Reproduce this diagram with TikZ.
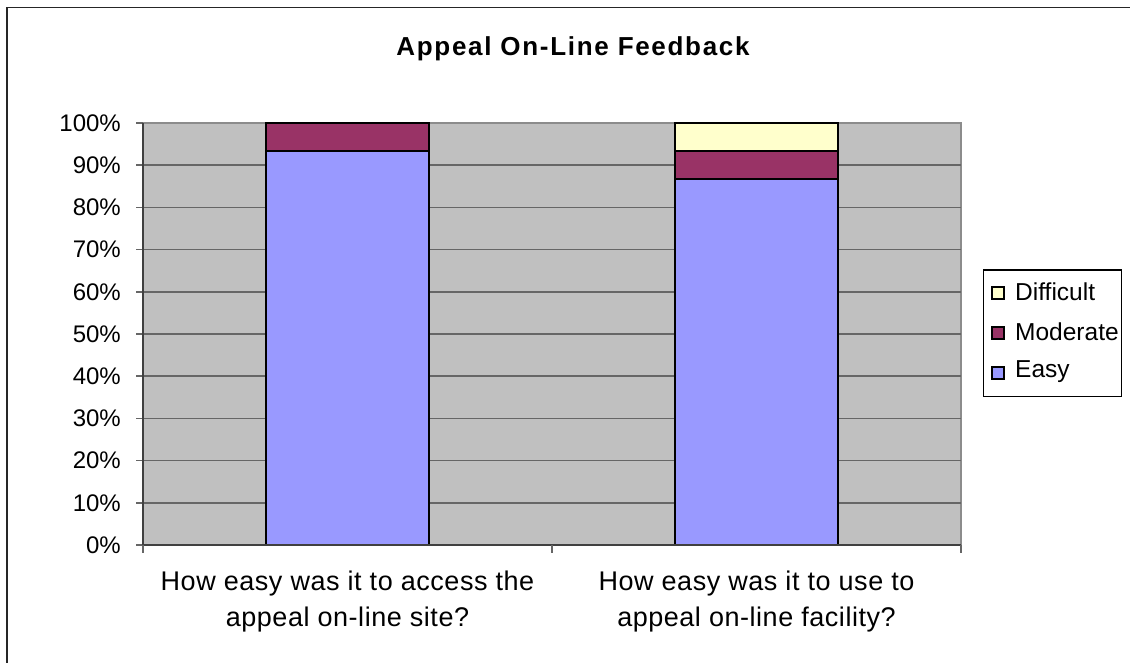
\documentclass[tikz,border=0pt]{standalone}
\usepackage{fontspec}
\setmainfont{Liberation Sans}
\definecolor{plotbg}{HTML}{C0C0C0}
\definecolor{easyc}{HTML}{9999FF}
\definecolor{modc}{HTML}{993366}
\definecolor{diffc}{HTML}{FFFFCC}
\definecolor{gridc}{HTML}{666666}
\definecolor{axisc}{HTML}{404040}
\definecolor{borderc}{HTML}{8C8C8C}
\tikzset{
  frameline/.style={draw=black!85, line width=1.6pt},
  gridline/.style={draw=gridc, line width=1.6pt},
  axisline/.style={draw=axisc, line width=1.8pt},
  tickline/.style={draw=gridc, line width=1.6pt},
  barseg/.style={draw=black, line width=1.8pt},
  ticklabel/.style={anchor=east, inner sep=0pt, font=\fontsize{24}{28}\selectfont},
  catlabel/.style={align=center, inner sep=0pt, font=\fontsize{27}{36}\selectfont\addfontfeature{LetterSpace=2}},
  legtext/.style={anchor=west, inner sep=0pt, font=\fontsize{24.5}{28}\selectfont},
  legmark/.style={draw=black, line width=1.3pt, minimum width=12pt, minimum height=12pt, inner sep=0pt},
  titlestyle/.style={inner sep=0pt, font=\bfseries\fontsize{26}{30}\selectfont\addfontfeature{LetterSpace=6.5}}
}
\begin{document}
\begin{tikzpicture}[x=1pt,y=-1pt]
\useasboundingbox (0,0) rectangle (1130,662);
\clip (0,0) rectangle (1130,662);
\fill[white] (0,0) rectangle (1130,662);
% outer chart frame (cut by the page at right and bottom)
\draw[frameline] (7,7.5) rectangle (1200,720);
% title
\node[titlestyle] (title) at (573,49) {Appeal On-Line Feedback};
% plot area
\fill[plotbg] (143,123) rectangle (961,545);
\draw[draw=borderc, line width=1.4pt] (143,123) -- (961,123) -- (961,545);
% gridlines and y ticks
\foreach \i in {1,...,9} {
  \pgfmathsetmacro{\yy}{545-42.2*\i}
  \draw[gridline] (143,\yy) -- (961,\yy);
}
\foreach \i in {0,...,10} {
  \pgfmathsetmacro{\yy}{545-42.2*\i}
  \draw[tickline] (136,\yy) -- (143,\yy);
  \pgfmathtruncatemacro{\pc}{10*\i}
  \node[ticklabel] (yl\i) at (121,\yy) {\pc\%};
}
% bars
\draw[barseg, fill=easyc] (265.7,545) rectangle (429.3,151.1);
\draw[barseg, fill=modc] (265.7,151.1) rectangle (429.3,123);
\draw[barseg, fill=easyc] (674.7,545) rectangle (838.3,179.3);
\draw[barseg, fill=modc] (674.7,179.3) rectangle (838.3,151.1);
\draw[barseg, fill=diffc] (674.7,151.1) rectangle (838.3,123);
% axes
\draw[axisline] (143,123) -- (143,545) -- (961,545);
\foreach \x in {143,552,961} {
  \draw[tickline] (\x,545) -- (\x,552.5);
}
% category labels
\node[catlabel] (cat1) at (347.5,602) {How easy was it to access the\\appeal on-line site?};
\node[catlabel] (cat2) at (756.5,602) {How easy was it to use to\\appeal on-line facility?};
% legend
\draw[draw=black, line width=1.4pt, fill=white] (983.5,270) rectangle (1121.5,396.5);
\node[legmark, fill=diffc] (m1) at (998,293) {};
\node[legmark, fill=modc] (m2) at (998,333) {};
\node[legmark, fill=easyc] (m3) at (998,373) {};
\node[legtext] (l1) at (1015,292) {Difficult};
\node[legtext] (l2) at (1015,332) {Moderate};
\node[legtext] (l3) at (1015,372) {Easy};
\end{tikzpicture}
\end{document}
